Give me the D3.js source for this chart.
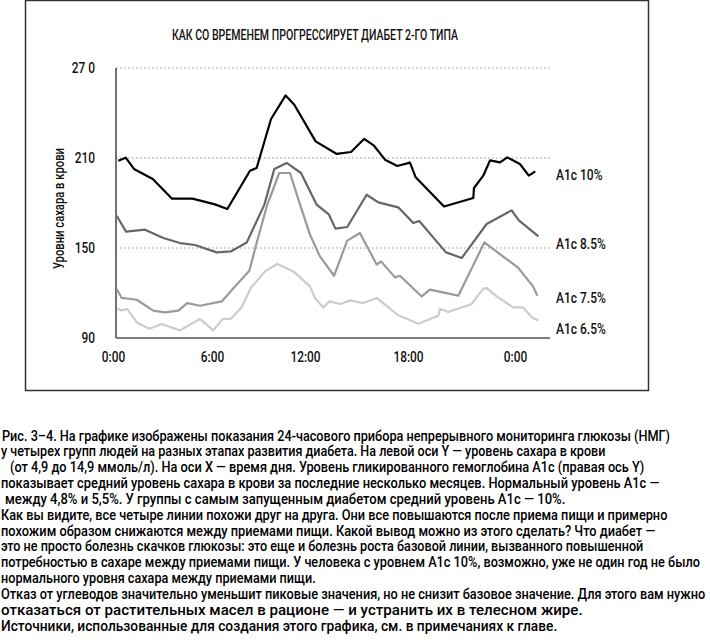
<!DOCTYPE html>
<html>
<head>
<meta charset="utf-8">
<script src="https://cdn.jsdelivr.net/npm/d3@7"></script>
<style>
  body { margin: 0; background: #fff; }
  svg text { font-family: Roboto, "Liberation Sans", Arial, sans-serif; font-weight: 500; }
</style>
</head>
<body>
<div id="chart"></div>
<script>
// data: hours of the day and blood sugar (mg/dl)
var hours10 = [0.32,0.77,1.27,1.84,2.41,3.58,4.81,5.47,6.19,6.99,8.45,8.88,9.81,10.75,11.31,12.62,13.85,14.68,15.44,16.02,16.66,17.38,18.11,18.43,20.02,21.66,21.7,22.22,22.6,23.16,23.57,24.28,24.79,25.16]
var sugar10 = [208.2,210.2,202.7,199.3,196,182.9,182.9,181.1,179.1,176,201.5,203.3,236,251.7,245.5,221.1,212.7,214,222.7,218.2,208.9,204.7,206.9,197.1,177.7,183.3,190,198.2,208.4,207.1,210.4,206,198.2,201.1]

var hours85 = [0.22,0.79,1.94,3.05,4.06,4.97,6.3,7.21,8.24,9.38,10.02,10.82,11.74,12.68,13.4,13.77,14.46,15.59,16.27,17.43,18.3,18.63,20.13,21.01,22.41,23.81,24.22,25.34]
var sugar85 = [171.5,160.9,162.2,156.7,153.3,152,147.1,147.7,153.7,178.9,202.7,206.7,200,178.9,172.2,162.9,164,185.5,180.4,177.1,166.7,168,147.1,143.3,166,175.1,168.4,157.7]

var hours75 = [0.22,0.53,1.44,2.44,3.15,3.96,4.5,5.27,6.63,7.48,8.41,8.88,9.53,10.34,11.03,11.68,12.29,12.87,13.69,14.46,15.2,16.18,16.43,17.24,17.53,18.77,19.23,20.82,22.28,24.19,25.03,25.28]
var sugar75 = [122.7,116.7,115.5,108.2,107.1,108.2,113.3,111.5,114.4,124.4,134.9,153.3,177.7,200,200,178.9,158.9,144.4,131.5,154.9,160,138.9,141.1,130.4,131.5,117.7,122.2,118.2,153.7,136.7,124.4,118.2]

var hours65 = [0.26,0.53,0.87,1.44,2.2,2.95,4.06,5.27,6.08,6.69,7.21,7.92,8.5,9.42,10.21,11.25,12.29,12.58,13.07,13.4,14.04,14.62,15.4,16.18,17.43,18.58,19.7,19.79,20.26,21.57,22.22,22.41,22.97,23.9,24.46,24.97,25.34]
var sugar65 = [109.5,108.4,109.3,100.4,96.2,99.3,95.1,102.7,95.1,102.7,102.7,110.7,123.3,134.4,139.3,134.4,124.4,116.7,110.4,114.4,112.7,115.1,113.3,116.7,105.1,99.5,104.9,109.5,107.3,112.7,122.9,123.3,117.7,110.4,110.4,103.7,101.7]

var seriesNames = ["A1c 10%", "A1c 8.5%", "A1c 7.5%", "A1c 6.5%"]
var labelValues = [199, 153, 117, 96.5]

var yTicks = [90, 150, 210, 270]
var yTickLabels = ["90", "150", "210", "27 0"]
var xTicks = [0, 6, 12, 18, 24]
var xTickLabels = ["0:00", "6:00", "12:00", "18:00", "0:00"]

var title = "КАК СО ВРЕМЕНЕМ ПРОГРЕССИРУЕТ ДИАБЕТ 2-ГО ТИПА"
var yTitle = "Уровни сахара в крови"

var caption = [
  "Рис. 3–4. На графике изображены показания 24-часового прибора непрерывного мониторинга глюкозы (НМГ)",
  "у четырех групп людей на разных этапах развития диабета. На левой оси Y — уровень сахара в крови",
  "(от 4,9 до 14,9 ммоль/л). На оси X — время дня. Уровень гликированного гемоглобина A1c (правая ось Y)",
  "показывает средний уровень сахара в крови за последние несколько месяцев. Нормальный уровень A1c —",
  "между 4,8% и 5,5%. У группы с самым запущенным диабетом средний уровень A1c — 10%.",
  "Как вы видите, все четыре линии похожи друг на друга. Они все повышаются после приема пищи и примерно",
  "похожим образом снижаются между приемами пищи. Какой вывод можно из этого сделать? Что диабет —",
  "это не просто болезнь скачков глюкозы: это еще и болезнь роста базовой линии, вызванного повышенной",
  "потребностью в сахаре между приемами пищи. У человека с уровнем A1c 10%, возможно, уже не один год не было",
  "нормального уровня сахара между приемами пищи.",
  "Отказ от углеводов значительно уменьшит пиковые значения, но не снизит базовое значение. Для этого вам нужно",
  "отказаться от растительных масел в рационе — и устранить их в телесном жире.",
  "Источники, использованные для создания этого графика, см. в примечаниях к главе."
]

// layout of the caption: where each line starts and how wide it is set
var captionX = [2, 1, 10, 1, 5, 1, 1, 1, 1, 1, 1, 1, 1]
var captionW = [669, 605, 635, 659, 561, 667, 655, 643, 700, 315, 705, 582, 557]

var W = 710, H = 642
var plotLeft = 116
var condense = 0.82

var svg = d3.select("#chart")
  .append("svg")
    .attr("width", W)
    .attr("height", H)

// squeeze a text sideways, the original is set in a condensed face
function squeeze(sel, k) {
  sel.each(function() {
    var len = this.getComputedTextLength()
    d3.select(this)
      .attr("textLength", len * k)
      .attr("lengthAdjust", "spacingAndGlyphs")
  })
}

// frame round the chart
svg.append("rect")
  .attr("x", 25.5)
  .attr("y", 0.5)
  .attr("width", 623)
  .attr("height", 390)
  .attr("fill", "none")
  .attr("stroke", "#333")
  .attr("stroke-width", 1.5)

// x is piecewise so the tick labels sit where the picture has them
var x = d3.scaleLinear()
  .domain([0, 6, 12, 18, 24, 26])
  .range([113, 212, 305, 408, 515, 550])

var y = d3.scaleLinear()
  .domain([90, 270])
  .range([338, 68])

// dotted gridlines
svg.selectAll(".grid")
  .data(yTicks.slice(1))
  .enter().append("line")
    .attr("class", "grid")
    .attr("x1", plotLeft)
    .attr("x2", x(26))
    .attr("y1", function(d) { return y(d) })
    .attr("y2", function(d) { return y(d) })
    .attr("stroke", "#999")
    .attr("stroke-width", 1)
    .attr("stroke-dasharray", "1.5,2.5")

// axis lines
svg.append("line")
  .attr("x1", plotLeft).attr("x2", plotLeft)
  .attr("y1", y(270)).attr("y2", y(90))
  .attr("stroke", "#444").attr("stroke-width", 1.5)
svg.append("line")
  .attr("x1", plotLeft).attr("x2", x(26))
  .attr("y1", y(90)).attr("y2", y(90))
  .attr("stroke", "#555").attr("stroke-width", 1.5)

var yAxis = svg.append("g")
  .attr("transform", "translate(" + plotLeft + ",0)")
  .call(d3.axisLeft(y).tickValues(yTicks)
    .tickFormat(function(d, i) { return yTickLabels[i] })
    .tickSize(0).tickPadding(21))
yAxis.select(".domain").remove()
yAxis.attr("font-family", null).attr("font-size", null)
yAxis.selectAll("text")
  .attr("font-size", "14.5px")
  .attr("fill", "#111")
  .call(squeeze, condense)

var xAxis = svg.append("g")
  .attr("transform", "translate(0," + y(90) + ")")
  .call(d3.axisBottom(x).tickValues(xTicks)
    .tickFormat(function(d, i) { return xTickLabels[i] })
    .tickSize(0).tickPadding(14))
xAxis.select(".domain").remove()
xAxis.attr("font-family", null).attr("font-size", null)
xAxis.selectAll("text")
  .attr("font-size", "14.5px")
  .attr("fill", "#111")
  .call(squeeze, condense)

var series = [
  {name: seriesNames[0], hours: hours10, sugar: sugar10, color: "#000000", label: labelValues[0]},
  {name: seriesNames[1], hours: hours85, sugar: sugar85, color: "#666666", label: labelValues[1]},
  {name: seriesNames[2], hours: hours75, sugar: sugar75, color: "#9a9a9a", label: labelValues[2]},
  {name: seriesNames[3], hours: hours65, sugar: sugar65, color: "#cccccc", label: labelValues[3]}
]

var line = d3.line()
  .x(function(d) { return x(d[0]) })
  .y(function(d) { return y(d[1]) })

// light lines first so the dark ones lie on top
series.slice().reverse().forEach(function(s) {
  svg.append("path")
    .datum(d3.zip(s.hours, s.sugar))
    .attr("d", line)
    .attr("fill", "none")
    .attr("stroke", s.color)
    .attr("stroke-width", 2.2)
    .attr("stroke-linejoin", "round")
})

series.forEach(function(s) {
  svg.append("text")
    .attr("x", 556)
    .attr("y", y(s.label))
    .attr("dy", "0.35em")
    .attr("font-size", "15px")
    .attr("fill", "#111")
    .text(s.name)
    .call(squeeze, 0.8)
})

svg.append("text")
  .attr("x", 315)
  .attr("y", 40)
  .attr("text-anchor", "middle")
  .attr("font-size", "14px")
  .attr("fill", "#111")
  .attr("textLength", 286)
  .attr("lengthAdjust", "spacingAndGlyphs")
  .text(title)

svg.append("text")
  .attr("transform", "translate(64,208.5) rotate(-90)")
  .attr("text-anchor", "middle")
  .attr("font-size", "14.5px")
  .attr("fill", "#111")
  .attr("textLength", 121)
  .attr("lengthAdjust", "spacingAndGlyphs")
  .text(yTitle)

// caption under the frame, each line scaled sideways to its width
svg.selectAll(".caption")
  .data(caption)
  .enter().append("text")
    .attr("class", "caption")
    .attr("font-size", "14.5px")
    .attr("fill", "#000")
    .text(function(d) { return d })
    .each(function(d, i) {
      var k = captionW[i] / this.getComputedTextLength()
      d3.select(this).attr("transform",
        "translate(" + captionX[i] + "," + (440.5 + i * 15.85) + ") scale(" + k + ",1)")
    })
</script>
</body>
</html>
